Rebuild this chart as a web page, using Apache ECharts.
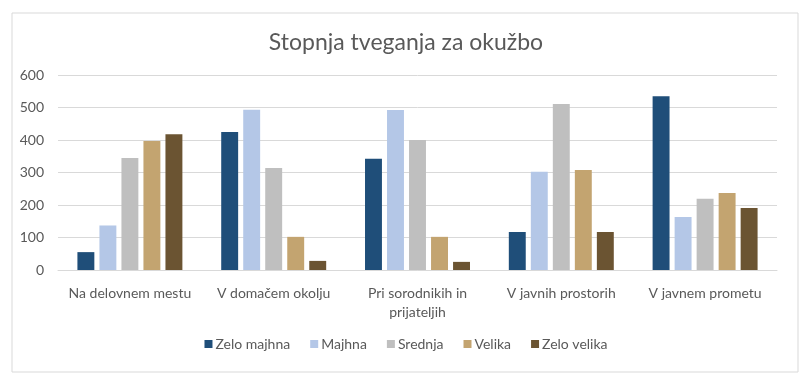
<!DOCTYPE html>
<html>
<head>
<meta charset="utf-8">
<script src="https://cdn.jsdelivr.net/npm/echarts@6/dist/echarts.min.js"></script>
<style>html,body{margin:0;padding:0;background:#fff}#c{width:812px;height:389px}</style>
</head>
<body>
<div id="c"></div>
<script>
const categories = ['Na delovnem mestu', 'V domačem okolju', 'Pri sorodnikih in\nprijateljih', 'V javnih prostorih', 'V javnem prometu'];
const seriesNames = ['Zelo majhna', 'Majhna', 'Srednja', 'Velika', 'Zelo velika'];
const zeloMajhna = [55, 425, 342, 117, 535];
const majhna = [137, 493, 492, 302, 163];
const srednja = [345, 314, 400, 511, 219];
const velika = [397, 102, 102, 308, 237];
const zeloVelika = [418, 28, 25, 117, 191];
const yTicks = [0, 100, 200, 300, 400, 500, 600];

const colors = ['#1F4E79', '#B4C7E7', '#BFBFBF', '#C3A470', '#6B5432'];
const values = [zeloMajhna, majhna, srednja, velika, zeloVelika];
const font = 'Lato, "Open Sans", sans-serif';

const chart = echarts.init(document.getElementById('c'));
chart.setOption({
  animation: false,
  textStyle: { fontFamily: font },
  graphic: [{
    type: 'rect', left: 9.5, top: 10.5,
    shape: { width: 786, height: 359 },
    style: { fill: 'none', stroke: '#D9D9D9', lineWidth: 1 }
  }],
  title: {
    text: 'Stopnja tveganja za okužbo', left: 'center', top: 26,
    textStyle: { fontFamily: font, fontSize: 23, fontWeight: 'normal', color: '#595959' }
  },
  legend: {
    data: seriesNames, bottom: 33, left: 'center',
    itemWidth: 8, itemHeight: 8, itemGap: 20, icon: 'rect',
    textStyle: { fontFamily: font, fontSize: 14, color: '#595959', padding: [0, 0, 0, -2] }
  },
  grid: { left: 58, right: 35, top: 75, bottom: 119, containLabel: false },
  xAxis: {
    type: 'category', data: categories,
    axisLine: { lineStyle: { color: '#D9D9D9' } },
    axisTick: { show: false },
    axisLabel: { fontFamily: font, fontSize: 14, color: '#595959', margin: 14, lineHeight: 19, interval: 0 }
  },
  yAxis: {
    type: 'value', min: yTicks[0], max: yTicks[yTicks.length - 1], interval: 100,
    axisLine: { show: false }, axisTick: { show: false },
    splitLine: { lineStyle: { color: '#D9D9D9' } },
    axisLabel: { fontFamily: font, fontSize: 14, color: '#595959', margin: 14 }
  },
  series: seriesNames.map((n, i) => ({
    name: n, type: 'bar', data: values[i],
    itemStyle: { color: colors[i] },
    barGap: '30%', barCategoryGap: '27%'
  }))
});
</script>
</body>
</html>
